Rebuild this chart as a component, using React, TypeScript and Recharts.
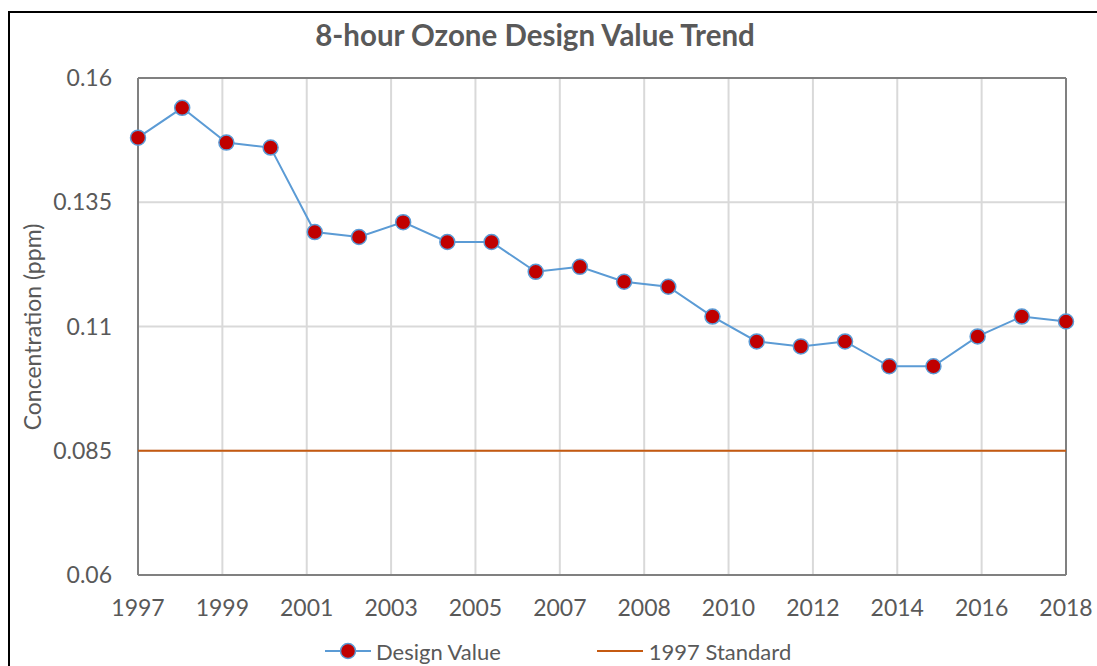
import {
  LineChart,
  Line,
  XAxis,
  YAxis,
  CartesianGrid,
  ReferenceLine,
  Legend,
} from "recharts";

const years = [
  1997, 1998, 1999, 2000, 2001, 2002, 2003, 2004, 2005, 2006, 2007,
  2008, 2009, 2010, 2011, 2012, 2013, 2014, 2015, 2016, 2017, 2018,
];
const designValues = [
  0.148, 0.154, 0.147, 0.146, 0.129, 0.128, 0.131, 0.127, 0.127, 0.121, 0.122,
  0.119, 0.118, 0.112, 0.107, 0.106, 0.107, 0.102, 0.102, 0.108, 0.112, 0.111,
];
const standard1997 = 0.085;

const xTickLabels = [
  "1997", "1999", "2001", "2003", "2005", "2007",
  "2008", "2010", "2012", "2014", "2016", "2018",
];
const yTicks = [0.06, 0.085, 0.11, 0.135, 0.16];

const data = years.map((year, i) => ({
  year,
  design: designValues[i],
  standard: standard1997,
}));

// Excel spreads the 12 labels evenly over the date axis
const xMin = years[0];
const xMax = years[years.length - 1];
const yMin = yTicks[0];
const yMax = yTicks[yTicks.length - 1];
const xTicks = xTickLabels.map(
  (_, i) => xMin + (i * (xMax - xMin)) / (xTickLabels.length - 1)
);

const FONT = "Lato, 'Open Sans', sans-serif";
const GREY = "#595959";
const BLUE = "#5B9BD5";
const RED = "#C00000";
const ORANGE = "#C55A11";
const BORDER = "#808080";

function ChartLegend() {
  const text = { fontSize: 22, color: GREY, fontFamily: FONT };
  return (
    <div style={{ display: "flex", alignItems: "center", height: 30, paddingLeft: 315 }}>
      <svg width={46} height={20}>
        <line x1={0} y1={10} x2={46} y2={10} stroke={BLUE} strokeWidth={2} />
        <circle cx={23} cy={10} r={7.5} fill={RED} stroke={BLUE} strokeWidth={1.5} />
      </svg>
      <span style={{ ...text, marginLeft: 5 }}>Design Value</span>
      <svg width={46} height={20} style={{ marginLeft: 96 }}>
        <line x1={0} y1={10} x2={46} y2={10} stroke={ORANGE} strokeWidth={2} />
      </svg>
      <span style={{ ...text, marginLeft: 6 }}>1997 Standard</span>
    </div>
  );
}

export default function App() {
  return (
    <div>
      {/* chart frame: only its top and left edges are in view */}
      <div style={{ position: "absolute", left: 8, top: 11, width: 1089, height: 2, background: "#000" }} />
      <div style={{ position: "absolute", left: 8, top: 11, width: 2, height: 655, background: "#000" }} />
      <div
        style={{
          position: "absolute",
          left: 10,
          width: 1050,
          top: 17,
          textAlign: "center",
          fontFamily: FONT,
          fontWeight: 700,
          fontSize: 29.5,
          color: GREY,
        }}
      >
        8-hour Ozone Design Value Trend
      </div>
      <div style={{ position: "absolute", left: 10, top: 13 }}>
        <LineChart
          width={1087}
          height={653}
          data={data}
          accessibilityLayer={false}
          margin={{ top: 65, right: 31, bottom: 0, left: 0 }}
        >
          <CartesianGrid stroke="#D9D9D9" strokeWidth={2} verticalValues={xTicks} horizontalValues={yTicks} />
          <XAxis
            dataKey="year"
            type="number"
            domain={[xMin, xMax]}
            ticks={xTicks}
            interval={0}
            tickFormatter={(_v, i) => xTickLabels[i]}
            tickLine={false}
            tickSize={0}
            tickMargin={25}
            axisLine={false}
            height={61}
            tick={{ fill: GREY, fontSize: 23, fontFamily: FONT }}
          />
          <YAxis
            type="number"
            domain={[yMin, yMax]}
            ticks={yTicks}
            interval={0}
            tickLine={false}
            tickSize={0}
            tickMargin={26}
            axisLine={false}
            width={128}
            tick={{ fill: GREY, fontSize: 23, fontFamily: FONT }}
            label={() => (
              <text
                x={22}
                y={314}
                transform="rotate(-90, 22, 314)"
                textAnchor="middle"
                dominantBaseline="central"
                fill={GREY}
                fontSize={23}
                fontFamily={FONT}
              >
                Concentration (ppm)
              </text>
            )}
          />
          <ReferenceLine x={xMin} stroke={BORDER} strokeWidth={2} />
          <ReferenceLine x={xMax} stroke={BORDER} strokeWidth={2} />
          <ReferenceLine y={yMin} stroke={BORDER} strokeWidth={2} />
          <ReferenceLine y={yMax} stroke={BORDER} strokeWidth={2} />
          <Line
            dataKey="standard"
            stroke={ORANGE}
            strokeWidth={2}
            dot={false}
            activeDot={false}
            isAnimationActive={false}
          />
          <Line
            dataKey="design"
            stroke={BLUE}
            strokeWidth={2}
            dot={{ r: 7.5, fill: RED, stroke: BLUE, strokeWidth: 1.5 }}
            activeDot={false}
            isAnimationActive={false}
          />
          <Legend verticalAlign="bottom" content={() => <ChartLegend />} />
        </LineChart>
      </div>
    </div>
  );
}
